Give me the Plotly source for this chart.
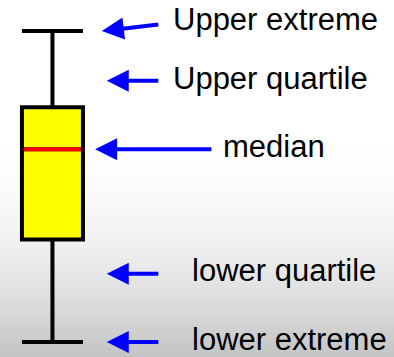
import plotly.graph_objects as go

# box summary, whiskers run to the extremes
lower_extreme = [0.0]
lower_quartile = [3.3]
median = [6.2]
upper_quartile = [7.55]
upper_extreme = [10.0]

# callouts: text and the value each arrow points at
labels = ["Upper extreme", "Upper quartile", "median", "lower quartile", "lower extreme"]
label_values = [10.0, 8.4, 6.2, 2.2, 0.0]

BOX_WIDTH = 1.0
BLUE = "#0000ff"
FONT = "Liberation Sans, Arial, sans-serif"

# arrow head x, tail x, tail rise (y units), text x, text shift (px)
callout_pos = [
    dict(head=0.81, tail=1.76, rise=0.22, text_x=1.94, shift=11.5),
    dict(head=0.89, tail=1.76, rise=0.0, text_x=1.94, shift=2.5),
    dict(head=0.70, tail=2.63, rise=0.0, text_x=2.76, shift=2.5),
    dict(head=0.89, tail=1.76, rise=0.0, text_x=2.25, shift=3.5),
    dict(head=0.89, tail=1.76, rise=0.0, text_x=2.25, shift=2.5),
]

fig = go.Figure()

fig.add_trace(
    go.Box(
        x=[0],
        lowerfence=lower_extreme,
        q1=lower_quartile,
        median=median,
        q3=upper_quartile,
        upperfence=upper_extreme,
        width=BOX_WIDTH,
        whiskerwidth=1,
        fillcolor="#ffff00",
        line={"color": "black", "width": 4},
        hoverinfo="skip",
    )
)

# red median bar drawn over the box
half = BOX_WIDTH / 2 - 0.035
fig.add_trace(
    go.Scatter(
        x=[-half, half],
        y=median * 2,
        mode="lines",
        line={"color": "#ff0000", "width": 4},
        hoverinfo="skip",
    )
)

for text, val, pos in zip(labels, label_values, callout_pos):
    fig.add_annotation(
        x=pos["head"],
        y=val,
        ax=pos["tail"],
        ay=val + pos["rise"],
        axref="x",
        ayref="y",
        text="",
        showarrow=True,
        arrowhead=2,
        arrowsize=1.1,
        arrowwidth=4,
        arrowcolor=BLUE,
        standoff=0,
    )
    fig.add_annotation(
        x=pos["text_x"],
        y=val,
        yshift=pos["shift"],
        text=text,
        showarrow=False,
        xanchor="left",
        yanchor="middle",
        font={"family": FONT, "size": 31, "color": "black"},
    )

# slide background: white fading to grey towards the bottom
shapes = []
n_bands = 46
start = 0.64
for i in range(n_bands):
    y0 = start * i / n_bands
    y1 = start * (i + 1) / n_bands
    t = 1 - (y0 + y1) / 2 / start
    g = round(255 - 60 * t**2)
    shapes.append(
        dict(
            type="rect",
            xref="paper",
            yref="paper",
            x0=0,
            x1=1,
            y0=y0,
            y1=y1 + 0.004,
            fillcolor=f"rgb({g},{g},{g})",
            line={"width": 0},
            layer="below",
        )
    )

fig.update_layout(
    width=394,
    height=357,
    margin={"l": 0, "r": 0, "t": 0, "b": 0},
    paper_bgcolor="white",
    plot_bgcolor="white",
    showlegend=False,
    shapes=shapes,
    xaxis={"range": [-0.86, 5.6], "visible": False, "fixedrange": True},
    yaxis={"range": [-0.48, 11.0], "visible": False, "fixedrange": True},
)

fig.write_html(
    "out.html",
    config={"displayModeBar": False},
    post_script="document.body.style.margin='0';",
)
